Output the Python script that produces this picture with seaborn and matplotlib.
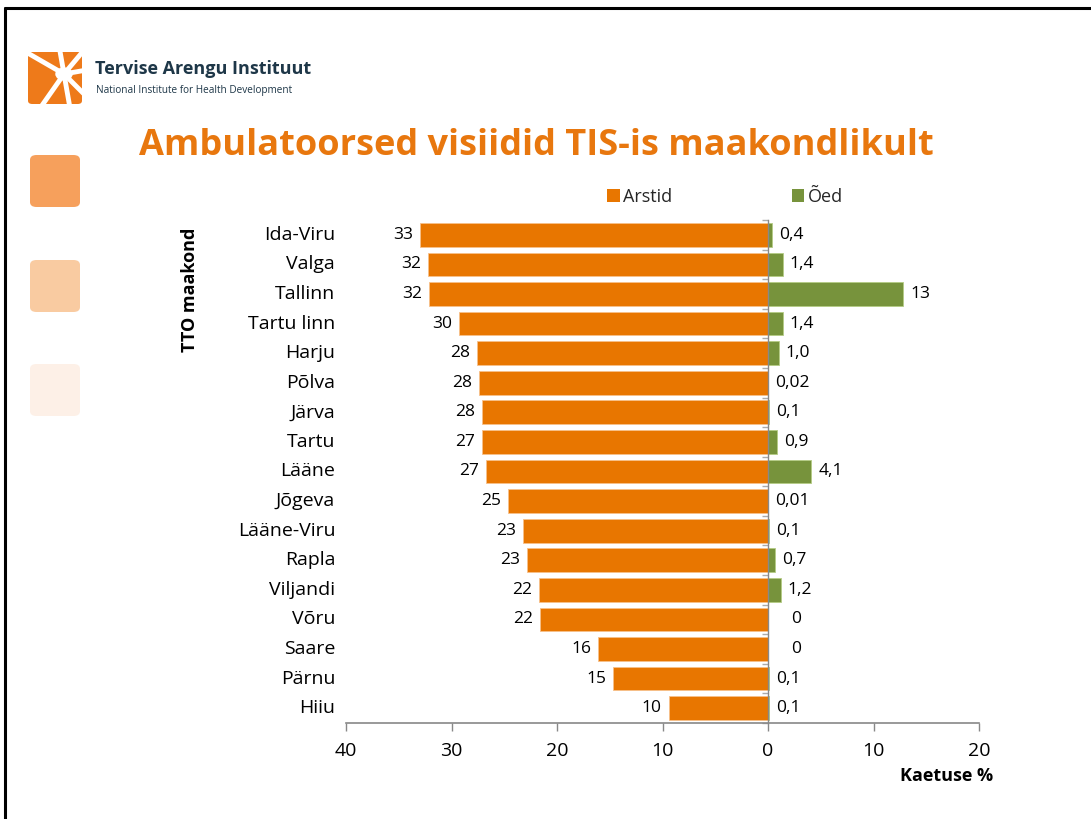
import numpy as np
import pandas as pd
import matplotlib
matplotlib.use("Agg")
import matplotlib.pyplot as plt
import matplotlib.transforms as mtransforms
from matplotlib.patches import Patch, FancyBboxPatch, Rectangle, Circle
import seaborn as sns

# ---------------- data ----------------
categories = ["Ida-Viru", "Valga", "Tallinn", "Tartu linn", "Harju", "Põlva", "Järva",
              "Tartu", "Lääne", "Jõgeva", "Lääne-Viru", "Rapla", "Viljandi", "Võru",
              "Saare", "Pärnu", "Hiiu"]
arstid = [33.0, 32.2, 32.1, 29.3, 27.6, 27.4, 27.1, 27.1, 26.7, 24.6, 23.2, 22.8,
          21.7, 21.6, 16.1, 14.7, 9.4]
arstid_labels = ["33", "32", "32", "30", "28", "28", "28", "27", "27", "25", "23", "23",
                 "22", "22", "16", "15", "10"]
oed = [0.4, 1.4, 12.8, 1.4, 1.0, 0.02, 0.1, 0.9, 4.1, 0.01, 0.1, 0.7, 1.2, 0.0, 0.0, 0.1, 0.1]
oed_labels = ["0,4", "1,4", "13", "1,4", "1,0", "0,02", "0,1", "0,9", "4,1", "0,01", "0,1",
              "0,7", "1,2", "0", "0", "0,1", "0,1"]
xticks = [-40, -30, -20, -10, 0, 10, 20]
xtick_labels = ["40", "30", "20", "10", "0", "10", "20"]
series_names = ["Arstid", "Õed"]

ORANGE = "#E87600"
GREEN = "#77933C"
TITLE_ORANGE = "#E8770E"
GRAY = "#888888"
NAVY = "#1E3748"

sns.set_theme(style="white")
plt.rcParams["font.family"] = ["Open Sans", "DejaVu Sans"]

W, H = 1091, 819
fig = plt.figure(figsize=(W / 100, H / 100), dpi=100)

def fx(px):
    return px / W

def fy(py):
    return 1 - py / H

# slide border (top and left)
fig.add_artist(plt.Line2D([fx(5), 1], [fy(8), fy(8)], color="black", lw=2.2, transform=fig.transFigure))
fig.add_artist(plt.Line2D([fx(5), fx(5)], [fy(8), 0], color="black", lw=2.2, transform=fig.transFigure))

# decorative squares
for y0, c in [(155, "#F6A05C"), (260, "#F9CBA1"), (364, "#FDF0E7")]:
    fig.add_artist(FancyBboxPatch((fx(30), fy(y0 + 52)), fx(50), (52) / H,
                                  boxstyle="round,pad=0,rounding_size=0.006",
                                  transform=fig.transFigure, fc=c, ec="none"))

# logo
fig.add_artist(FancyBboxPatch((fx(28), fy(104)), fx(54), 52 / H,
                              boxstyle="round,pad=0,rounding_size=0.004",
                              transform=fig.transFigure, fc="#EE7A1A", ec="none"))
cx, cy = 64, 74
for ang in [150, 100, 50, 10, -45, -80, -125]:
    r = 45
    ex = cx + r * np.cos(np.radians(ang))
    ey = cy - r * np.sin(np.radians(ang))
    fig.add_artist(plt.Line2D([fx(cx), fx(ex)], [fy(cy), fy(ey)], color="white", lw=3.5,
                              transform=fig.transFigure, solid_capstyle="butt"))
# mask outside logo box
fig.add_artist(Rectangle((fx(15), fy(52)), fx(80), 12 / H, transform=fig.transFigure, fc="white", ec="none"))
fig.add_artist(Rectangle((fx(15), fy(116)), fx(80), 12 / H, transform=fig.transFigure, fc="white", ec="none"))
fig.add_artist(Rectangle((fx(12), fy(116)), fx(16), 70 / H, transform=fig.transFigure, fc="white", ec="none"))
fig.add_artist(Rectangle((fx(82), fy(116)), fx(12), 70 / H, transform=fig.transFigure, fc="white", ec="none"))
fig.add_artist(Circle((fx(cx), fy(cy)), 0.008, transform=fig.transFigure, fc="white", ec="none"))

fig.text(fx(95), fy(69), "Tervise Arengu Instituut", fontsize=13, fontweight="bold",
         color=NAVY, ha="left", va="center")
fig.text(fx(96), fy(90), "National Institute for Health Development", fontsize=7.2,
         color=NAVY, ha="left", va="center")

# title
fig.text(fx(536), fy(146), "Ambulatoorsed visiidid TIS-is maakondlikult", fontsize=26,
         fontweight="bold", color=TITLE_ORANGE, ha="center", va="center")

# ---------------- chart ----------------
df = pd.DataFrame({"maakond": categories, "arstid": arstid, "oed": oed})
df["arstid_neg"] = -df["arstid"]

ax = fig.add_axes([fx(346), fy(723), fx(979) - fx(346), 503 / H])
sns.barplot(data=df, x="arstid_neg", y="maakond", orient="h", color=ORANGE,
            width=0.8, ax=ax, saturation=1, edgecolor="#F7C08A", linewidth=0.6)
sns.barplot(data=df, x="oed", y="maakond", orient="h", color=GREEN,
            width=0.8, ax=ax, saturation=1, edgecolor="#B5CC85", linewidth=0.6)

ax.set_xlim(-40, 20)
ax.set_ylim(len(categories) - 0.5, -0.5)
ax.set_xticks(xticks)
ax.set_xticklabels(xtick_labels, fontsize=14, color="black")
ax.set_xlabel("")
ax.set_ylabel("")
ax.set_yticks([])
ax.set_yticks(np.arange(len(categories) + 1) - 0.5, minor=True)
ax.tick_params(axis="y", which="minor", length=4, width=1, color="#AAAAAA", direction="out", left=True)
ax.tick_params(axis="x", length=6, width=1, color=GRAY, direction="out", bottom=True, pad=8)

for s in ["top", "right"]:
    ax.spines[s].set_visible(False)
ax.spines["left"].set_position(("data", 0))
ax.spines["left"].set_color(GRAY)
ax.spines["left"].set_linewidth(1)
ax.spines["bottom"].set_color(GRAY)
ax.spines["bottom"].set_linewidth(1.2)
ax.patch.set_alpha(0)

trans = mtransforms.blended_transform_factory(ax.transAxes, ax.transData)
for i, name in enumerate(categories):
    ax.text(-0.017, i, name, transform=trans, ha="right", va="center", fontsize=14, color="black")

for i, (v, lab) in enumerate(zip(arstid, arstid_labels)):
    ax.annotate(lab, xy=(-v, i), xytext=(-5, 0), textcoords="offset points",
                ha="right", va="center", fontsize=12.5, color="black")
for i, (v, lab) in enumerate(zip(oed, oed_labels)):
    off = 20 if v == 0 else 5
    ax.annotate(lab, xy=(v, i), xytext=(off, 0), textcoords="offset points",
                ha="left" if v != 0 else "center", va="center", fontsize=12.5, color="black")

# legend
handles = [Patch(facecolor=ORANGE, edgecolor="none"), Patch(facecolor=GREEN, edgecolor="none")]
fig.legend(handles, series_names, loc="center left", bbox_to_anchor=(fx(607), fy(197)),
           ncol=2, frameon=False, fontsize=13, handlelength=0.7, handleheight=0.7,
           handletextpad=0.2, columnspacing=6.6, borderaxespad=0, borderpad=0)

fig.text(fx(190), fy(290), "TTO maakond", rotation=90, fontsize=13, fontweight="bold",
         ha="center", va="center", color="black")
fig.text(fx(993), fy(776), "Kaetuse %", fontsize=13, fontweight="bold",
         ha="right", va="center", color="black")

fig.savefig("out.png", dpi=100, facecolor="white")
